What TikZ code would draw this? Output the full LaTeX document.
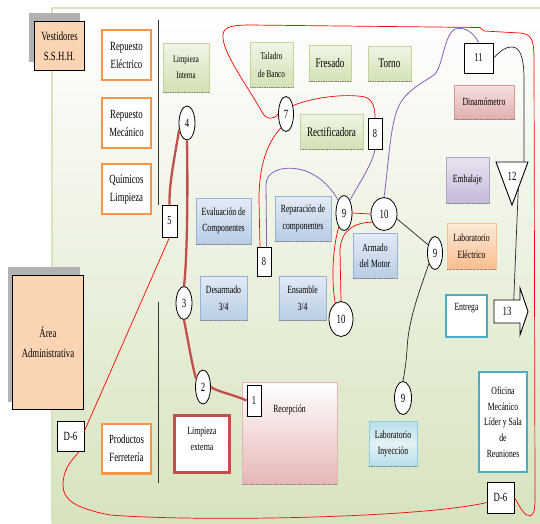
\documentclass[tikz,border=0pt]{standalone}
\usepackage{fontspec}
\setmainfont{Liberation Serif}[FakeStretch=0.7]
\usetikzlibrary{shapes.geometric}
\newcommand\myfs[2]{\fontsize{#1}{#2}\selectfont}
\definecolor{orng}{HTML}{F79646}
\definecolor{dred}{HTML}{C0504D}
\definecolor{teal1}{HTML}{4BACC6}
\definecolor{peach}{HTML}{FBD4B4}
\definecolor{bgb}{HTML}{D7E3BF}
\definecolor{bgline}{HTML}{D7E4BD}
\definecolor{grt}{HTML}{F0F5E6}
\definecolor{grb}{HTML}{D2E1B5}
\definecolor{grl}{HTML}{C3D69B}
\definecolor{blt}{HTML}{E3EBF5}
\definecolor{blb}{HTML}{B9CDE5}
\definecolor{bll}{HTML}{95B3D7}
\definecolor{pkt}{HTML}{F4E0DF}
\definecolor{pkb}{HTML}{E2AFAE}
\definecolor{pkl}{HTML}{D99694}
\definecolor{pur1}{HTML}{E8E3EF}
\definecolor{pur2}{HTML}{C7BAD8}
\definecolor{purl}{HTML}{B3A2C7}
\definecolor{ort}{HTML}{FDEADA}
\definecolor{orb}{HTML}{F9BE8E}
\definecolor{orl}{HTML}{FAC090}
\definecolor{cyt}{HTML}{E4F2F6}
\definecolor{cyb}{HTML}{B7DEE8}
\definecolor{cyl}{HTML}{93CDDD}
\definecolor{purp}{HTML}{8E5BC0}
\begin{document}
\begin{tikzpicture}[x=1pt,y=-1pt,
 base/.style={inner sep=0pt, align=center},
 dotbase/.style={append after command={(\tikzlastnode.south west) edge[densely dotted,line width=1.4pt,black!50] (\tikzlastnode.south east)}},
 obox/.style={base,draw=orng,line width=2.4pt,fill=white,minimum width=48.6pt,minimum height=49.6pt,font={\myfs{12.5}{18}}},
 pbox/.style={base,draw=black,line width=0.9pt,fill=peach,font={\myfs{12.5}{20}}},
 gbox/.style={base,draw=grl,line width=0.6pt,top color=grt,bottom color=grb,dotbase},
 bbox/.style={base,draw=bll,line width=0.6pt,top color=blt,bottom color=blb,dotbase,font={\myfs{11}{16.5}},minimum width=47pt,minimum height=44pt},
 tbox/.style={base,draw=teal1,line width=2pt,fill=white,font={\myfs{11}{15.7}}},
 circ/.style={ellipse,draw,fill=white,line width=0.8pt,inner sep=0pt,font={\myfs{12.5}{13}}},
 sq/.style={rectangle,draw,fill=white,line width=0.9pt,inner sep=0pt,font={\myfs{12}{13}}},
 thk/.style={draw=dred,line width=2.3pt},
 thr/.style={draw=red,line width=0.7pt},
 pur/.style={draw=purp,line width=0.8pt},
 blk/.style={draw=black!85,line width=0.7pt}
]
\useasboundingbox (0,0) rectangle (540,523);
% background
\shade[top color=white, bottom color=bgb] (52,8) rectangle (540,523);
\draw[bgline, line width=1.5pt] (52,523) -- (52,8) -- (540,8);
\draw[black!80, line width=0.7pt] (158,20) -- (158,205);
\draw[black!80, line width=0.7pt] (158,302) -- (158,483);
% shadows
\fill[black!30] (29,13) rectangle (80,62);
\fill[black!30] (8,267) rectangle (80,402);
% peach boxes
\node[pbox, minimum width=50pt, minimum height=49pt] (vest) at (59.5,46) {Vestidores\\S.S.H.H.};
\node[pbox, minimum width=71pt, minimum height=134pt] (admin) at (48,342.5) {Área\\Administrativa};
% orange boxes
\node[obox] (repE) at (126.5,55) {Repuesto\\Eléctrico};
\node[obox] (repM) at (126.5,123) {Repuesto\\Mecánico};
\node[obox] (quim) at (126.5,189) {Químicos\\Limpieza};
\node[obox] (prod) at (126.5,448.5) {Productos\\Ferretería};
% green boxes
\node[gbox, minimum width=46pt, minimum height=49pt, font={\myfs{9.8}{16}}] (limpI) at (186,67.5) {Limpieza\\Interna};
\node[gbox, minimum width=43pt, minimum height=45pt, font={\myfs{10.3}{18}}] (tal) at (271.5,64.5) {Taladro\\de Banco};
\node[gbox, minimum width=42pt, minimum height=36pt, font={\myfs{13}{14}}] (fres) at (330,63) {Fresado};
\node[gbox, minimum width=43pt, minimum height=35pt, font={\myfs{13}{14}}] (torno) at (389.5,63.5) {Torno};
\node[gbox, minimum width=63pt, minimum height=35pt, font={\myfs{13}{14}}] (rect) at (331.5,131.5) {Rectificadora};
% coloured boxes right
\node[base, draw=pkl, line width=0.6pt, top color=pkt, bottom color=pkb, dotbase, minimum width=60pt, minimum height=34pt, font={\myfs{11}{14}}] (dina) at (484,102) {Dinamómetro};
\node[base, draw=purl, line width=0.6pt, top color=pur1, bottom color=pur2, dotbase, minimum width=43pt, minimum height=46pt, font={\myfs{11}{14}}] (emb) at (467.5,180) {Embalaje};
\node[base, draw=orl, line width=0.6pt, top color=ort, bottom color=orb, dotbase, minimum width=49pt, minimum height=46pt, font={\myfs{11}{17}}] (labE) at (471.5,246) {Laboratorio\\Eléctrico};
\node[tbox, minimum width=41pt, minimum height=42pt, label={[font={\myfs{11}{12}}, anchor=center, yshift=8pt]center:Entrega}] (entr) at (466.5,316) {};
\node[tbox, minimum width=48pt, minimum height=100pt] (ofi) at (503,422) {Oficina\\Mecánico\\Líder y Sala\\de\\Reuniones};
\node[base, draw=cyl, line width=0.6pt, top color=cyb, bottom color=cyb, middle color=cyt, dotbase, minimum width=48pt, minimum height=45pt, font={\myfs{11}{16}}] (labI) at (393,443.5) {Laboratorio\\Inyección};
% blue boxes
\node[bbox, minimum width=55pt, minimum height=46pt] (eval) at (223.5,221) {Evaluación de\\Componentes};
\node[bbox, minimum width=56pt, minimum height=45pt] (repa) at (303,218.5) {Reparación de\\componentes};
\node[bbox] (desa) at (223.5,298) {Desarmado\\3/4};
\node[bbox] (ensa) at (302.5,298) {Ensamble\\3/4};
\node[bbox, minimum width=44pt, minimum height=45pt] (arm) at (375,255.5) {Armado\\del Motor};
% reception and external cleaning
\node[base, draw=pkl!70, line width=0.6pt, top color=white, bottom color=pkb!90, dotbase, minimum width=95pt, minimum height=102pt, label={[font={\myfs{11}{12}}, anchor=center, yshift=-28pt]north:Recepción}] (rec) at (289.5,433) {};
\node[base, draw=dred, line width=2.6pt, fill=white, minimum width=55.4pt, minimum height=57.4pt, label={[font={\myfs{11}{16}}, align=center, anchor=center, yshift=5pt]center:{Limpieza\\externa}}] (limpE) at (202,444) {};
% circles
\node[circ, minimum width=16pt, minimum height=34pt] (c4) at (187,123) {4};
\node[circ, minimum width=15pt, minimum height=35pt] (c7) at (286,114) {7};
\node[circ, minimum width=16pt, minimum height=33pt] (c3) at (184,303) {3};
\node[circ, minimum width=15pt, minimum height=34pt] (c2) at (203,387) {2};
\node[circ, minimum width=16pt, minimum height=35pt] (c9a) at (344,213) {9};
\node[circ, minimum width=26pt, minimum height=33pt] (c10a) at (384,214) {10};
\node[circ, minimum width=24pt, minimum height=35pt] (c10b) at (341,319) {10};
\node[circ, minimum width=15pt, minimum height=33pt] (c9b) at (435,253) {9};
\node[circ, minimum width=17pt, minimum height=33pt] (c9c) at (403,398) {9};
% squares
\node[sq, minimum width=14pt, minimum height=31pt] (s1) at (254,400.5) {1};
\node[sq, minimum width=15pt, minimum height=32pt] (s5) at (169.5,221) {5};
\node[sq, minimum width=14pt, minimum height=29pt] (s8a) at (264,261.5) {8};
\node[sq, minimum width=14pt, minimum height=31pt] (s8b) at (375,133.5) {8};
\node[sq, minimum width=29pt, minimum height=30pt] (s11) at (478.5,58) {11};
\node[sq, minimum width=27pt, minimum height=30pt, font={\myfs{12.5}{13}}] (d6l) at (70.5,436) {D-6};
\node[sq, minimum width=27pt, minimum height=31pt, font={\myfs{12.5}{13}}] (d6r) at (500.5,497.5) {D-6};
% triangle 12 and arrow 13
\draw[line width=0.9pt, fill=white] (496,162) -- (528,162) -- (512,205) -- cycle;
\node[font={\myfs{12.5}{13}}, inner sep=0pt] (n12) at (512,176) {12};
\draw[line width=0.9pt, fill=white] (494,300) -- (520,300) -- (520,288) -- (528,311.5) -- (520,335) -- (520,323) -- (494,323) -- cycle;
\node[base, minimum width=26pt, minimum height=23pt, font={\myfs{12.5}{13}}] (n13) at (507,311.5) {13};
\coordinate (t12in) at (524,162);
\coordinate (t12out) at (518.3,188);
% thick red route
\draw[thk] (c2.east) .. controls (218,392) and (232,394) .. (s1.west);
\draw[thk] (c3.south) .. controls (188,340) and (192,365) .. (c2.130);
\draw[thk] (c4.south) .. controls (188,200) and (187,260) .. (c3.north);
\draw[thk] (c4.220) .. controls (174,160) and (169,185) .. (s5.north);
% thin red route
\draw[thr] (s5.south) -- (d6l.20);
\draw[thr] (d6l.300) .. controls (70,462) and (63,470) .. (63,485) .. controls (63,500) and (75,508) .. (110,515) .. controls (200,522) and (420,518) .. (d6r.200);
\draw[thr] (d6r.east) .. controls (520,507) and (524,516) .. (530,516) .. controls (535,515) and (535,505) .. (535,495) -- (534,60) .. controls (534,40) and (532,34) .. (520,33) -- (484,31) -- (480,27.5) -- (250,25) .. controls (228,25) and (222,28) .. (223,38) .. controls (224,55) and (250,90) .. (262,112) .. controls (266,120) and (274,120) .. (c7.west);
\draw[thr] (c7.50) .. controls (310,98) and (345,93) .. (365,97) .. controls (374,100) and (375,110) .. (s8b.north);
\draw[thr] (c7.250) .. controls (265,145) and (259,170) .. (259,200) -- (s8a.105);
\draw[thr] (c9a.east) -- (c10a.west);
\draw[thr] (c9a.250) .. controls (333,245) and (331,280) .. (c10b.110);
\draw[thr] (c10a.215) .. controls (358,222) and (341,228) .. (340,250) -- (c10b.north);
% purple route
\draw[pur] (s8a.80) -- (266,185) .. controls (266,172) and (280,166) .. (298,169) .. controls (315,172) and (330,185) .. (c9a.115);
\draw[pur] (s8b.south) .. controls (372,165) and (358,185) .. (c9a.65);
\draw[pur] (c10a.north) .. controls (388,170) and (390,125) .. (398,108) .. controls (405,90) and (425,82) .. (435,74) .. controls (443,65) and (444,35) .. (455,29) .. controls (465,26) and (474,33) .. (s11.north);
% black route
\draw[blk] (c10a.-20) -- (c9b.130);
\draw[blk] (c9b.240) .. controls (420,290) and (408,320) .. (407,350) .. controls (406,365) and (404,375) .. (c9c.north);
\draw[blk] (s11.east) .. controls (500,52) and (504,47) .. (512,47) .. controls (521,47) and (524,60) .. (524,80) -- (t12in);
\draw[blk] (t12out) -- (n13.60);
\end{tikzpicture}
\end{document}
